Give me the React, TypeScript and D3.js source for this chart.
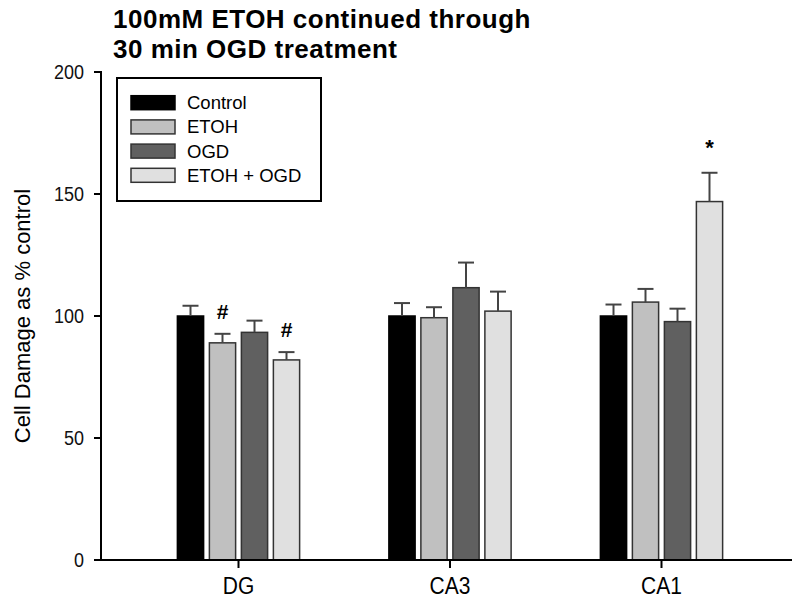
import * as React from 'react';
import * as d3 from 'd3';

const categories = ['DG', 'CA3', 'CA1'];
const seriesNames = ['Control', 'ETOH', 'OGD', 'ETOH + OGD'];
const seriesColors = ['#000000', '#c0c0c0', '#606060', '#e0e0e0'];

const controlMeans = [100, 100, 100];
const etohMeans = [89, 99.3, 105.7];
const ogdMeans = [93.3, 111.6, 97.7];
const etohOgdMeans = [82, 102, 146.9];

const controlErr = [4.2, 5.3, 4.7];
const etohErr = [3.7, 4.3, 5.4];
const ogdErr = [4.8, 10.3, 5.3];
const etohOgdErr = [3.2, 8, 11.8];

const yTicks = [0, 50, 100, 150, 200];

const sigMarks = [
  {category: 'DG', series: 'ETOH', mark: '#'},
  {category: 'DG', series: 'ETOH + OGD', mark: '#'},
  {category: 'CA1', series: 'ETOH + OGD', mark: '*'}
];

const titleLines = ['100mM ETOH continued through', '30 min OGD treatment'];
const yLabel = 'Cell Damage as % control';

type BarDatum = {category: string; series: string; value: number; err: number; color: string};

const FONT = "'Liberation Sans', Arial, sans-serif";

export default function App() {
  const ref = React.useRef<SVGSVGElement>(null);

  React.useEffect(() => {
    const svg = d3.select(ref.current);
    svg.selectAll('*').remove();

    const width = 792;
    const height = 602;
    const left = 101;
    const top = 72;
    const bottom = 560;
    const right = 792;

    const means = [controlMeans, etohMeans, ogdMeans, etohOgdMeans];
    const errs = [controlErr, etohErr, ogdErr, etohOgdErr];
    const data: BarDatum[] = [];
    categories.forEach((c, ci) => {
      seriesNames.forEach((s, si) => {
        data.push({category: c, series: s, value: means[si][ci], err: errs[si][ci], color: seriesColors[si]});
      });
    });

    const x0 = d3.scaleBand().domain(categories).range([132.75, 767.25]);
    const x1 = d3
      .scaleBand()
      .domain(seriesNames)
      .range([-64, 64])
      .paddingInner(0.18)
      .paddingOuter(0.09);
    const y = d3.scaleLinear().domain([0, 200]).range([bottom, top]);

    const cx = (d: {category: string; series: string}) =>
      (x0(d.category) as number) + x0.bandwidth() / 2 + (x1(d.series) as number) + x1.bandwidth() / 2;

    svg.attr('width', width).attr('height', height);
    svg.append('rect').attr('width', width).attr('height', height).attr('fill', '#fff');

    // title
    svg
      .append('g')
      .selectAll('text')
      .data(titleLines)
      .join('text')
      .attr('x', 113)
      .attr('y', (d, i) => 28 + i * 30)
      .attr('font-family', FONT)
      .attr('font-weight', 'bold')
      .attr('font-size', 26)
      .attr('letter-spacing', 0.5)
      .attr('fill', '#000')
      .text(d => d);

    // bars
    svg
      .append('g')
      .selectAll('rect')
      .data(data)
      .join('rect')
      .attr('x', d => cx(d) - x1.bandwidth() / 2)
      .attr('y', d => y(d.value))
      .attr('width', x1.bandwidth())
      .attr('height', d => y(0) - y(d.value))
      .attr('fill', d => d.color)
      .attr('stroke', d => (d.series === 'Control' ? '#000' : '#333'))
      .attr('stroke-width', 1.5);

    // error bars (upper only)
    const eb = svg.append('g').attr('stroke', '#444').attr('stroke-width', 2);
    eb.selectAll('line.v')
      .data(data)
      .join('line')
      .attr('class', 'v')
      .attr('x1', d => cx(d))
      .attr('x2', d => cx(d))
      .attr('y1', d => y(d.value))
      .attr('y2', d => y(d.value + d.err));
    eb.selectAll('line.cap')
      .data(data)
      .join('line')
      .attr('class', 'cap')
      .attr('x1', d => cx(d) - 8)
      .attr('x2', d => cx(d) + 8)
      .attr('y1', d => y(d.value + d.err))
      .attr('y2', d => y(d.value + d.err));

    // significance marks
    svg
      .append('g')
      .selectAll('text')
      .data(sigMarks)
      .join('text')
      .attr('x', d => cx(d))
      .attr('y', d => {
        const b = data.find(v => v.category === d.category && v.series === d.series) as BarDatum;
        return y(b.value + b.err) - (d.mark === '*' ? 18 : 15);
      })
      .attr('text-anchor', 'middle')
      .attr('font-family', FONT)
      .attr('font-size', d => (d.mark === '*' ? 22 : 21))
      .attr('font-weight', 'bold')
      .attr('fill', '#000')
      .text(d => d.mark);

    // y axis
    const yAxis = svg.append('g');
    yAxis
      .append('line')
      .attr('x1', left)
      .attr('x2', left)
      .attr('y1', top - 1)
      .attr('y2', bottom + 1)
      .attr('stroke', '#000')
      .attr('stroke-width', 2);
    yAxis
      .selectAll('line.tick')
      .data(yTicks)
      .join('line')
      .attr('class', 'tick')
      .attr('x1', left - 7)
      .attr('x2', left)
      .attr('y1', d => y(d))
      .attr('y2', d => y(d))
      .attr('stroke', '#000')
      .attr('stroke-width', 2);
    yAxis
      .selectAll('text')
      .data(yTicks)
      .join('text')
      .attr('transform', d => `translate(84, ${y(d)}) scale(1, 1.15)`)
      .attr('dy', '0.35em')
      .attr('text-anchor', 'end')
      .attr('font-family', FONT)
      .attr('font-size', 18)
      .attr('fill', '#111')
      .text(d => d);

    svg
      .append('text')
      .attr('transform', 'translate(30, 316) rotate(-90)')
      .attr('text-anchor', 'middle')
      .attr('font-family', FONT)
      .attr('font-size', 22)
      .attr('fill', '#000')
      .text(yLabel);

    // x axis
    const xAxis = svg.append('g');
    xAxis
      .append('line')
      .attr('x1', left - 1)
      .attr('x2', right)
      .attr('y1', bottom)
      .attr('y2', bottom)
      .attr('stroke', '#000')
      .attr('stroke-width', 2);
    xAxis
      .selectAll('line.tick')
      .data(categories)
      .join('line')
      .attr('class', 'tick')
      .attr('x1', d => (x0(d) as number) + x0.bandwidth() / 2)
      .attr('x2', d => (x0(d) as number) + x0.bandwidth() / 2)
      .attr('y1', bottom)
      .attr('y2', bottom + 8)
      .attr('stroke', '#000')
      .attr('stroke-width', 2);
    xAxis
      .selectAll('text')
      .data(categories)
      .join('text')
      .attr('transform', d => `translate(${(x0(d) as number) + x0.bandwidth() / 2}, 594) scale(1, 1.1)`)
      .attr('text-anchor', 'middle')
      .attr('font-family', FONT)
      .attr('font-size', 21)
      .attr('fill', '#000')
      .text(d => d);

    // legend
    const lg = svg.append('g');
    lg.append('rect')
      .attr('x', 117)
      .attr('y', 78)
      .attr('width', 204)
      .attr('height', 123)
      .attr('fill', '#fff')
      .attr('stroke', '#000')
      .attr('stroke-width', 2);
    const rows = lg
      .selectAll('g')
      .data(seriesNames)
      .join('g')
      .attr('transform', (d, i) => `translate(0, ${102.7 + i * 24.2})`);
    rows
      .append('rect')
      .attr('x', 131)
      .attr('y', -7)
      .attr('width', 44)
      .attr('height', 14)
      .attr('fill', (d, i) => seriesColors[i])
      .attr('stroke', (d, i) => (i === 0 ? '#000' : '#333'))
      .attr('stroke-width', 1.5);
    rows
      .append('text')
      .attr('x', 187)
      .attr('y', 0)
      .attr('dy', '0.35em')
      .attr('font-family', FONT)
      .attr('font-size', 18.5)
      .attr('fill', '#000')
      .text(d => d);
  }, []);

  return (
    <div style={{position: 'absolute', left: 0, top: 0}}>
      <svg ref={ref} style={{display: 'block'}} />
    </div>
  );
}
